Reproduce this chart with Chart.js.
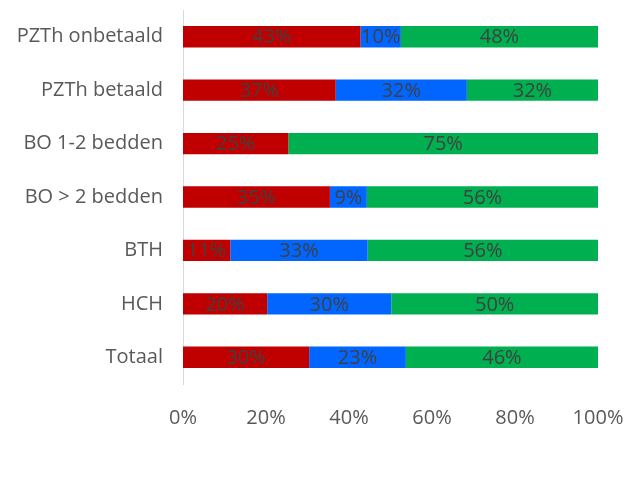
<!DOCTYPE html>
<html>
<head>
<meta charset="utf-8">
<script src="https://cdn.jsdelivr.net/npm/chart.js@4/dist/chart.umd.min.js"></script>
<style>
  html, body { margin: 0; padding: 0; background: #fff; }
  #wrap { width: 628px; height: 484px; }
</style>
</head>
<body>
<div id="wrap"><canvas id="chart"></canvas></div>
<script>
const categories = ['PZTh onbetaald', 'PZTh betaald', 'BO 1-2 bedden', 'BO > 2 bedden', 'BTH', 'HCH', 'Totaal'];
const redValues = [42.8, 36.8, 25.4, 35.4, 11.4, 20.3, 30.4];
const blueValues = [9.7, 31.6, 0, 8.9, 33.1, 29.9, 23.3];
const greenValues = [47.5, 31.6, 74.6, 55.7, 55.5, 49.8, 46.3];
const xTicks = [0, 20, 40, 60, 80, 100];

const FONT = '"Open Sans", sans-serif';

const barLabels = {
  id: 'barLabels',
  afterDatasetsDraw(chart) {
    const ctx = chart.ctx;
    ctx.save();
    ctx.font = '20px ' + FONT;
    ctx.fillStyle = '#404040';
    ctx.textAlign = 'center';
    ctx.textBaseline = 'middle';
    chart.data.datasets.forEach((ds, i) => {
      chart.getDatasetMeta(i).data.forEach((el, j) => {
        const v = ds.data[j];
        if (!v) return;
        ctx.fillText(Math.round(v) + '%', (el.x + el.base) / 2, el.y + 1);
      });
    });
    ctx.restore();
  }
};

new Chart(document.getElementById('chart'), {
  type: 'bar',
  data: {
    labels: categories,
    datasets: [
      { data: redValues, backgroundColor: '#C00000' },
      { data: blueValues, backgroundColor: '#0066FF' },
      { data: greenValues, backgroundColor: '#00B050' },
    ],
  },
  options: {
    indexAxis: 'y',
    responsive: true,
    maintainAspectRatio: false,
    animation: false,
    categoryPercentage: 1,
    barPercentage: 0.4,
    layout: { padding: { top: 10, right: 30, bottom: 40, left: 0 } },
    plugins: { legend: { display: false }, tooltip: { enabled: false } },
    scales: {
      x: {
        stacked: true,
        min: 0,
        max: 100,
        afterBuildTicks: scale => { scale.ticks = xTicks.map(v => ({ value: v })); },
        afterFit: scale => { scale.paddingLeft = 0; scale.paddingRight = 0; },
        grid: { display: false },
        border: { display: false },
        ticks: {
          padding: 14,
          color: '#595959',
          font: { family: FONT, size: 20 },
          callback: v => v + '%',
        },
      },
      y: {
        stacked: true,
        afterFit: scale => {
          scale.width = 183;
          scale.paddingTop = 0;
          scale.paddingBottom = 0;
        },
        grid: { display: false },
        border: { display: true, color: '#D9D9D9', width: 1 },
        ticks: {
          padding: 12,
          color: '#595959',
          font: { family: FONT, size: 20 },
        },
      },
    },
  },
  plugins: [barLabels],
});
</script>
</body>
</html>
